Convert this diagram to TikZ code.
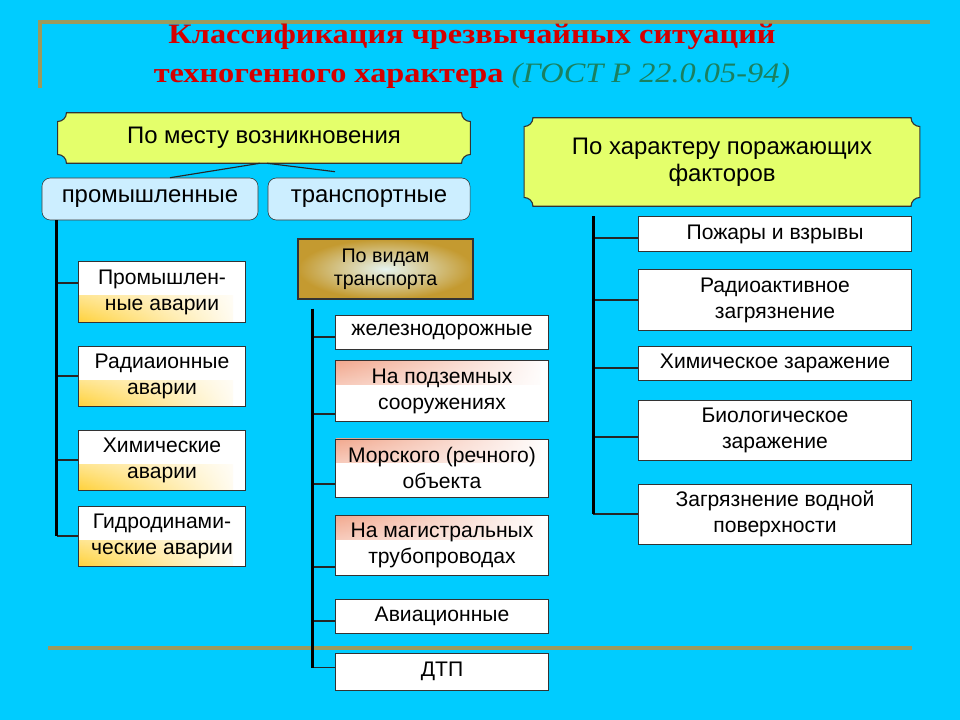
\documentclass[tikz,border=0pt]{standalone}
\usepackage{fontspec}
\setmainfont{Liberation Sans}
\newfontfamily\titlefont[FakeStretch=1.15]{Liberation Serif}
\usepackage{tikz}
\usetikzlibrary{positioning, calc, fadings, backgrounds}
\definecolor{SkyBg}{HTML}{00CCFF}
\definecolor{RuleOlive}{HTML}{9C9A5C}
\definecolor{TitleRed}{HTML}{D40000}
\definecolor{GostGreen}{HTML}{1A8060}
\definecolor{PlaqueLime}{HTML}{E4FF6B}
\definecolor{GroupBlue}{HTML}{CCEEFF}
\definecolor{KindGold}{HTML}{C49A30}
\definecolor{KindLight}{HTML}{E6F4F0}
\definecolor{GlowYellow}{HTML}{FFD23C}
\definecolor{GlowSalmon}{HTML}{F2A88E}
\newcommand\boxfont{\fontsize{15}{18.5}\selectfont}
\newcommand\headfont{\fontsize{17}{19}\selectfont}
% concave-corner frame round a node
\newcommand\plaque[2]{%
  \filldraw[plaqueline] ($(#1.north west)+(#2,0)$) -- ($(#1.north east)+(-#2,0)$)
    arc[start angle=180, end angle=270, radius=#2] -- ($(#1.south east)+(0,#2)$)
    arc[start angle=90, end angle=180, radius=#2] -- ($(#1.south west)+(#2,0)$)
    arc[start angle=0, end angle=90, radius=#2] -- ($(#1.north west)+(0,-#2)$)
    arc[start angle=270, end angle=360, radius=#2] -- cycle;}
\tikzset{
  plaquebox/.style={rectangle, inner sep=2pt, font=\headfont, align=center},
  plaqueline/.style={draw=black!80, fill=PlaqueLime, line width=0.8pt},
  groupbox/.style={rectangle, rounded corners=6pt, draw=black!80, fill=GroupBlue, minimum height=1.05cm, font=\headfont, align=center},
  itembox/.style={rectangle, draw=black!80, fill=white, inner sep=2pt, line width=0.7pt, font=\boxfont, align=center},
  yellowglow/.style={path picture={\shade[top color=white, bottom color=GlowYellow, path fading=east] (path picture bounding box.south west) rectangle ([xshift=-0.3cm, yshift=-0.1cm]path picture bounding box.east);}},
  salmonglow/.style={path picture={\shade[top color=GlowSalmon, bottom color=white, path fading=east] (path picture bounding box.north west) rectangle ([xshift=-0.2cm, yshift=0.15cm]path picture bounding box.east);}},
  kindbox/.style={rectangle, draw=black!80, line width=0.8pt, inner color=KindLight, outer color=KindGold, font=\fontsize{14}{16.5}\selectfont, align=center},
  trunk/.style={line width=2.4pt, black},
  branch/.style={line width=0.8pt, black!85},
  rule/.style={line width=3pt, RuleOlive}
}
\begin{document}
\begin{tikzpicture}[x=0.025cm, y=-0.025cm]
  \useasboundingbox (0,0) rectangle (960,720);
  \begin{scope}[on background layer]
    \fill[SkyBg] (0,0) rectangle (960,720);
  \end{scope}
  \draw[rule] (40,88) -- (40,22) -- (930,22);
  \draw[rule, line width=2.5pt] (48,648) -- (912,648);

  \node[font=\titlefont\fontsize{20}{27.7}\selectfont, text=TitleRed, align=center] (title) at (472,56) {\bfseries Классификация чрезвычайных ситуаций\\\bfseries техногенного характера {\mdseries\itshape\color{GostGreen}(ГОСТ Р 22.0.05-94)}};

  % groups by place
  \node[plaquebox, minimum width=10.3cm, minimum height=1.25cm] (place) at (264,138) {По месту возникновения};
  \node[plaquebox, minimum width=9.875cm, minimum height=2.2cm] (factor) at (722,162) {По характеру поражающих\\факторов};
  \begin{scope}[on background layer]
    \plaque{place}{0.22cm}
    \plaque{factor}{0.22cm}
  \end{scope}
  \node[groupbox, minimum width=5.4cm] (industry) at (150,199) {промышленные};
  \node[groupbox, minimum width=5.05cm] (transport) at (369,199) {транспортные};
  \draw[branch] ([xshift=-0.1cm]place.south) -- ([xshift=0.5cm]industry.north);
  \draw[branch] ([xshift=0.075cm]place.south) -- ([xshift=-0.85cm, yshift=0.15cm]transport.north);

  % industrial accidents
  \node[itembox, yellowglow, minimum width=4.15cm, minimum height=1.5cm] (l1) at (162,292) {Промышлен-\\ные аварии};
  \node[itembox, yellowglow, minimum width=4.15cm, minimum height=1.5cm, below=0.575cm of l1] (l2) {Радиаионные\\аварии};
  \node[itembox, yellowglow, minimum width=4.15cm, minimum height=1.5cm, below=0.575cm of l2] (l3) {Химические\\аварии};
  \node[itembox, yellowglow, minimum width=4.15cm, minimum height=1.5cm, below=0.375cm of l3] (l4) {Гидродинами-\\ческие аварии};
  \coordinate (lt) at ([xshift=0.375cm]industry.south west);
  \foreach \n/\dy in {l1/0.225cm, l2/0cm, l3/0cm, l4/0cm}
    \draw[branch] ([yshift=\dy]\n.west) coordinate (b\n) -- (b\n -| lt);
  \draw[trunk] (lt) -- (lt |- bl4);

  % transport
  \node[kindbox, minimum width=4.375cm, minimum height=1.5cm] (kind) at (385.5,269) {По видам\\транспорта};
  \node[itembox, minimum width=5.3cm, minimum height=0.85cm] (t1) at (442,332) {железнодорожные};
  \node[itembox, salmonglow, minimum width=5.3cm, minimum height=1.5cm, below=0.275cm of t1] (t2) {На подземных\\сооружениях};
  \node[itembox, salmonglow, minimum width=5.3cm, minimum height=1.45cm, below=0.425cm of t2] (t3) {Морского (речного)\\объекта};
  \node[itembox, salmonglow, minimum width=5.3cm, minimum height=1.5cm, below=0.425cm of t3] (t4) {На магистральных\\трубопроводах};
  \node[itembox, minimum width=5.3cm, minimum height=0.85cm, below=0.575cm of t4] (t5) {Авиационные};
  \node[itembox, minimum width=5.3cm, minimum height=0.925cm, below=0.475cm of t5] (t6) {ДТП};
  \coordinate (tt) at ([xshift=0.375cm, yshift=-0.225cm]kind.south west);
  \foreach \n/\dy in {t1/-0.125cm, t2/-0.575cm, t3/-0.4cm, t4/-0.55cm, t5/-0.125cm, t6/0.1cm}
    \draw[branch] ([yshift=\dy]\n.west) coordinate (b\n) -- (b\n -| tt);
  \draw[trunk] (tt) -- (tt |- bt6);

  % damaging factors
  \node[itembox, minimum width=6.8cm, minimum height=0.85cm] (r1) at (775,234) {Пожары и взрывы};
  \node[itembox, minimum width=6.8cm, minimum height=1.5cm, below=0.45cm of r1] (r2) {Радиоактивное\\загрязнение};
  \node[itembox, minimum width=6.8cm, minimum height=0.85cm, below=0.375cm of r2] (r3) {Химическое заражение};
  \node[itembox, minimum width=6.8cm, minimum height=1.5cm, below=0.475cm of r3] (r4) {Биологическое\\заражение};
  \node[itembox, minimum width=6.8cm, minimum height=1.5cm, below=0.575cm of r4] (r5) {Загрязнение водной\\поверхности};
  \coordinate (rt) at ([xshift=-1.125cm]r1.north west);
  \foreach \n/\dy in {r1/-0.1cm, r2/0cm, r3/-0.125cm, r4/-0.175cm, r5/0cm}
    \draw[branch] ([yshift=\dy]\n.west) coordinate (b\n) -- (b\n -| rt);
  \draw[trunk] (rt) -- (rt |- br5);
\end{tikzpicture}
\end{document}
